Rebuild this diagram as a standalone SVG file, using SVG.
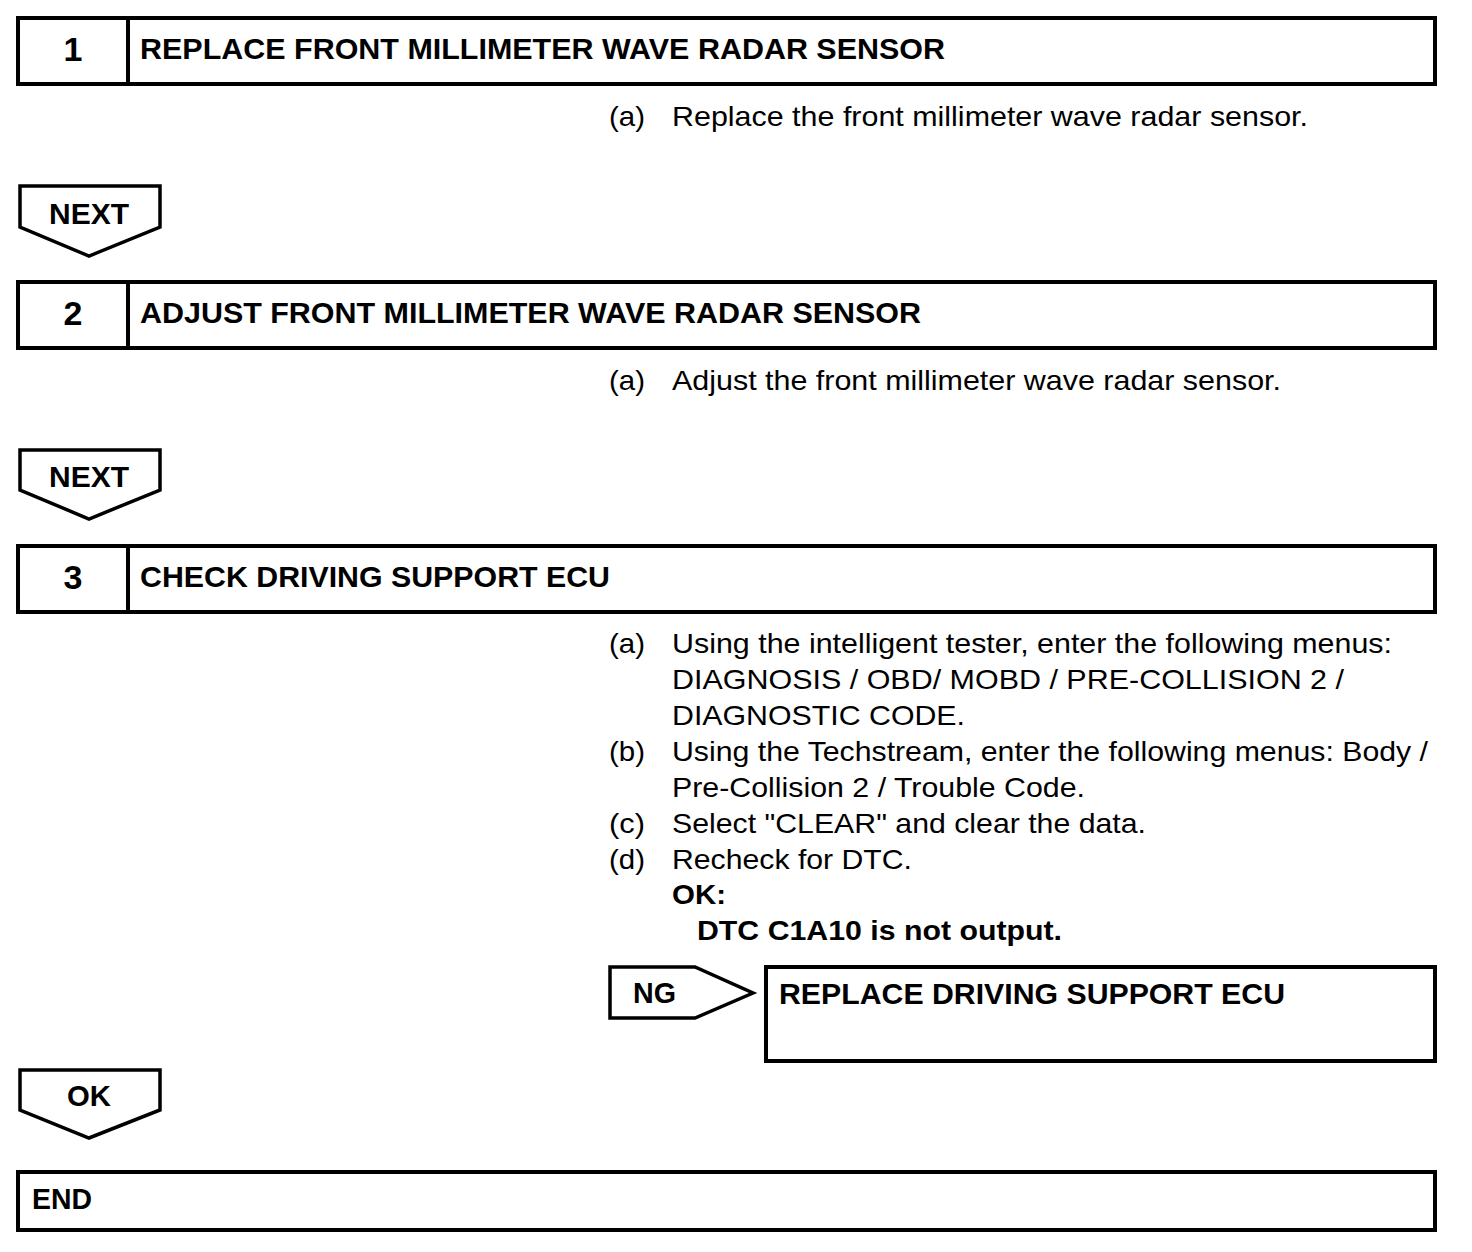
<svg xmlns="http://www.w3.org/2000/svg" width="1472" height="1252" viewBox="0 0 1472 1252">
<style>
.box{fill:#fff;stroke:#000;stroke-width:4}
.arr{fill:#fff;stroke:#000;stroke-width:3.5;stroke-linejoin:miter}
.num{font-family:"Liberation Sans",Arial,sans-serif;font-weight:bold;font-size:34px;fill:#000}
.ttl{font-family:"Liberation Sans",Arial,sans-serif;font-weight:bold;font-size:29.5px;fill:#000}
.txt{font-family:"Liberation Sans",Arial,sans-serif;font-size:28.5px;fill:#000}
.bld{font-family:"Liberation Sans",Arial,sans-serif;font-weight:bold;font-size:28px;fill:#000}
</style>
<rect width="1472" height="1252" fill="#fff"/>
<g id="step1">
<rect class="box" x="18" y="18" width="1417" height="66"/>
<line x1="128" y1="18" x2="128" y2="84" stroke="#000" stroke-width="4"/>
<text class="num" x="73" y="61" text-anchor="middle">1</text>
<text class="ttl" x="140" y="59" textLength="805" lengthAdjust="spacingAndGlyphs">REPLACE FRONT MILLIMETER WAVE RADAR SENSOR</text>
</g>
<g id="step1-text">
<text class="txt" x="609" y="126" textLength="36" lengthAdjust="spacingAndGlyphs">(a)</text>
<text class="txt" x="672" y="126" textLength="636" lengthAdjust="spacingAndGlyphs">Replace the front millimeter wave radar sensor.</text>
</g>
<g id="step2">
<rect class="box" x="18" y="282" width="1417" height="66"/>
<line x1="128" y1="282" x2="128" y2="348" stroke="#000" stroke-width="4"/>
<text class="num" x="73" y="325" text-anchor="middle">2</text>
<text class="ttl" x="140" y="323" textLength="781" lengthAdjust="spacingAndGlyphs">ADJUST FRONT MILLIMETER WAVE RADAR SENSOR</text>
</g>
<g id="step2-text">
<text class="txt" x="609" y="390" textLength="36" lengthAdjust="spacingAndGlyphs">(a)</text>
<text class="txt" x="672" y="390" textLength="609" lengthAdjust="spacingAndGlyphs">Adjust the front millimeter wave radar sensor.</text>
</g>
<g id="step3">
<rect class="box" x="18" y="546" width="1417" height="66"/>
<line x1="128" y1="546" x2="128" y2="612" stroke="#000" stroke-width="4"/>
<text class="num" x="73" y="589" text-anchor="middle">3</text>
<text class="ttl" x="140" y="587" textLength="470" lengthAdjust="spacingAndGlyphs">CHECK DRIVING SUPPORT ECU</text>
</g>
<g id="step3-text">
<text class="txt" x="609" y="653" textLength="36" lengthAdjust="spacingAndGlyphs">(a)</text>
<text class="txt" x="672" y="653" textLength="720" lengthAdjust="spacingAndGlyphs">Using the intelligent tester, enter the following menus:</text>
<text class="txt" x="672" y="689" textLength="672" lengthAdjust="spacingAndGlyphs">DIAGNOSIS / OBD/ MOBD / PRE-COLLISION 2 /</text>
<text class="txt" x="672" y="725" textLength="293" lengthAdjust="spacingAndGlyphs">DIAGNOSTIC CODE.</text>
<text class="txt" x="609" y="761" textLength="36" lengthAdjust="spacingAndGlyphs">(b)</text>
<text class="txt" x="672" y="761" textLength="756" lengthAdjust="spacingAndGlyphs">Using the Techstream, enter the following menus: Body /</text>
<text class="txt" x="672" y="797" textLength="413" lengthAdjust="spacingAndGlyphs">Pre-Collision 2 / Trouble Code.</text>
<text class="txt" x="609" y="833" textLength="36" lengthAdjust="spacingAndGlyphs">(c)</text>
<text class="txt" x="672" y="833" textLength="474" lengthAdjust="spacingAndGlyphs">Select "CLEAR" and clear the data.</text>
<text class="txt" x="609" y="869" textLength="36" lengthAdjust="spacingAndGlyphs">(d)</text>
<text class="txt" x="672" y="869" textLength="240" lengthAdjust="spacingAndGlyphs">Recheck for DTC.</text>
<text class="bld" x="672" y="904" textLength="54" lengthAdjust="spacingAndGlyphs">OK:</text>
<text class="bld" x="697" y="940" textLength="365" lengthAdjust="spacingAndGlyphs">DTC C1A10 is not output.</text>
</g>
<g id="replace-ecu">
<rect class="box" x="766" y="967" width="669" height="94"/>
<text class="ttl" x="779" y="1004" textLength="506" lengthAdjust="spacingAndGlyphs">REPLACE DRIVING SUPPORT ECU</text>
</g>
<g id="end">
<rect class="box" x="18" y="1172" width="1417" height="58"/>
<text class="ttl" x="32" y="1209" textLength="60" lengthAdjust="spacingAndGlyphs">END</text>
</g>
<g id="connectors">
<g id="next1">
<polygon class="arr" points="20,186 160,186 160,227 89,256 20,227"/>
<text class="ttl" x="49" y="224" textLength="80" lengthAdjust="spacingAndGlyphs">NEXT</text>
</g>
<g id="next2">
<polygon class="arr" points="20,450 160,450 160,490 89,519 20,490"/>
<text class="ttl" x="49" y="487" textLength="80" lengthAdjust="spacingAndGlyphs">NEXT</text>
</g>
<g id="ng">
<polygon class="arr" points="610,967 695,967 753,993 695,1018 610,1018"/>
<text class="ttl" x="633" y="1003" textLength="43" lengthAdjust="spacingAndGlyphs">NG</text>
</g>
<g id="ok">
<polygon class="arr" points="20,1070 160,1070 160,1110 89,1138 20,1110"/>
<text class="ttl" x="67" y="1106" textLength="44" lengthAdjust="spacingAndGlyphs">OK</text>
</g>
</g>
</svg>
